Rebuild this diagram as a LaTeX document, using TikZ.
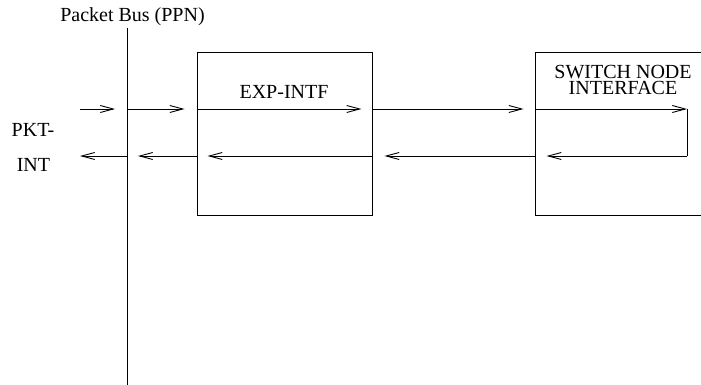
\documentclass[tikz,border=0pt]{standalone}
\usepackage{fontspec}
\setmainfont{Liberation Serif}
\usetikzlibrary{arrows.meta, positioning, calc}

\begin{document}
\begin{tikzpicture}[
    x=1pt, y=-1pt,
    blk/.style={rectangle, draw, line width=0.9pt, inner sep=0pt,
                minimum height=163pt, minimum width=#1},
    lbl/.style={font=\fontsize{20}{16}\selectfont, inner sep=0pt},
    arr/.style={-{Straight Barb[length=13pt, width=7pt]}, line width=0.9pt},
    wire/.style={line width=0.9pt}
  ]
    \clip (0,0) rectangle (701,385);

    % bus and boxes
    \coordinate (bustop) at (127,28);
    \coordinate (busbot) at (127,385);
    \draw[wire] (bustop) -- (busbot);
    \node[lbl, anchor=base] (buslbl) at (132.5,22) {Packet Bus (PPN)};

    \node[blk=175pt] (expintf) at (284.5,133.5) {};
    \node[blk=225pt] (swnode) at (647.5,133.5) {};

    \node[lbl, anchor=base] (explbl) at (284,99) {EXP-INTF};
    \node[lbl, anchor=north, align=center] (swlbl) at (623,65)
      {SWITCH NODE\\INTERFACE};

    \node[lbl, anchor=base] (pkt) at (33,136) {PKT-};
    \node[lbl, anchor=base] (int) at (33.5,171) {INT};

    % rows
    \coordinate (up) at (0,109);
    \coordinate (dn) at (0,156);
    \coordinate (pktin) at (80,109);
    \coordinate (pktout) at (80,156);
    \coordinate (turnup) at (687,109);
    \coordinate (turndn) at (687,156);

    \draw[arr, shorten >=12pt] (pktin) -- (bustop |- up);
    \draw[arr, shorten >=12pt] (bustop |- up) -- (expintf.west |- up);
    \draw[arr, shorten >=11pt] (expintf.west |- up) -- (expintf.east |- up);
    \draw[arr, shorten >=11pt] (expintf.east |- up) -- (swnode.west |- up);
    \draw[arr] (swnode.west |- up) -- (turnup);

    \draw[wire] (turnup) -- (turndn);
    \draw[arr, shorten >=12pt] (turndn) -- (swnode.west |- dn);
    \draw[arr, shorten >=12pt] (swnode.west |- dn) -- (expintf.east |- dn);
    \draw[arr, shorten >=11pt] (expintf.east |- dn) -- (expintf.west |- dn);
    \draw[arr, shorten >=11pt] (expintf.west |- dn) -- (bustop |- dn);
    \draw[arr] (bustop |- dn) -- (pktout);
  \end{tikzpicture}
\end{document}
